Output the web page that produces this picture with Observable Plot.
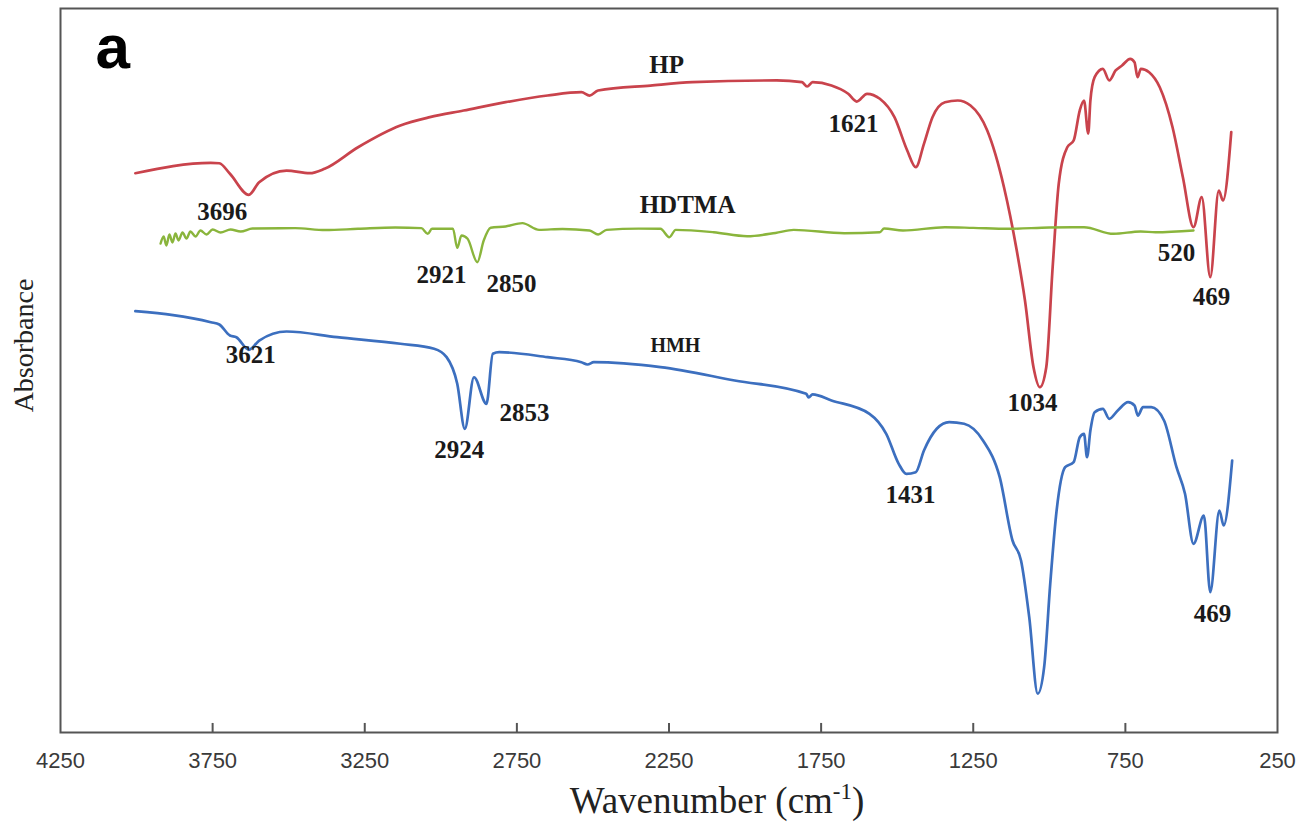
<!DOCTYPE html>
<html><head><meta charset="utf-8">
<script src="https://cdn.jsdelivr.net/npm/d3@7"></script>
<script src="https://cdn.jsdelivr.net/npm/@observablehq/plot@0.6"></script>
<style>body{margin:0;background:#fff} #chart{width:1310px;height:823px}</style>
</head><body><div id="chart"></div>
<script>
// FTIR spectra (arbitrary absorbance units, offset per sample)
const xTicks = [4250, 3750, 3250, 2750, 2250, 1750, 1250, 750, 250];
const innerTickLength = 1.25; // tick length in absorbance units (inward ticks)

const hpWave = [4004,3756,3728,3693,3631,3597,3507,3431,3382,3272,3133,3036,2925,2787,2649,2538,2511,2483,2311,2173,1896,1813,1796,1778,1716,1661,1633,1599,1557,1509,1467,1439,1412,1384,1343,1301,1259,1204,1149,1107,1080,1052,1031,1010,989,969,941,920,900,886,872,865,851,824,803,782,761,734,720,710,699,672,637,595,561,526,499,471,443,429,402];
const hpAbs = [77.25,78.69,78.63,77.17,74.27,76.01,77.62,77.25,77.86,80.84,83.84,84.99,85.91,87.06,87.98,88.44,87.98,88.67,89.36,89.82,90.06,89.82,89.23,89.82,89.36,88.22,87.15,88.22,87.53,84.99,80.39,78.08,81.31,84.99,87.06,87.29,86.6,83.15,75.32,66.57,59.67,50.46,47.69,50.46,64.27,75.79,80.84,81.77,85.91,87.29,82.73,87.29,90.51,91.67,90.06,91.44,92.13,93.05,92.58,90.51,91.67,91.2,89.13,83.6,76.7,69.79,73.94,62.89,74.86,73.48,82.92];

const hdtmaWave = [3921,3911,3902,3892,3882,3872,3862,3849,3836,3823,3806,3790,3770,3750,3724,3691,3658,3619,3479,3380,3272,3150,3064,3043,3029,2960,2946,2932,2912,2880,2859,2836,2787,2732,2677,2600,2511,2483,2455,2350,2278,2249,2228,2103,1993,1900,1840,1674,1557,1543,1481,1343,1250,1135,1000,886,789,700,651,526];
const hdtmaAbs = [67.54,68.51,67.27,68.78,67.68,68.92,67.96,69.06,68.23,69.20,68.51,69.34,68.78,69.48,69.06,69.48,69.20,69.61,69.66,69.40,69.57,69.75,69.66,68.88,69.57,69.57,66.94,68.65,68.19,64.96,67.96,69.71,69.89,70.35,69.43,69.55,69.34,68.78,69.43,69.60,69.57,68.41,69.43,69.10,68.55,69.00,69.43,68.96,69.10,69.61,69.34,69.79,69.70,69.57,69.75,69.79,68.88,69.20,69.10,69.34];

const hmhWave = [4004,3756,3728,3693,3672,3631,3597,3507,3341,3133,3022,2981,2946,2921,2891,2850,2829,2808,2649,2538,2518,2497,2278,2034,1799,1791,1778,1716,1591,1536,1495,1470,1439,1412,1370,1329,1280,1218,1163,1121,1093,1066,1038,1017,997,976,948,920,900,886,876,865,851,824,803,775,741,720,709,692,665,623,582,554,526,492,471,441,427,399];
const hmhAbs = [58.19,56.67,56.35,54.83,54.60,52.86,54.14,55.39,54.60,53.69,53.0,51.84,48.16,41.95,49.07,45.40,52.31,52.53,51.84,51.15,50.83,51.15,50.46,48.62,46.78,46.27,46.69,45.86,44.02,41.26,37.11,35.73,35.95,38.95,41.95,42.86,42.64,40.33,35.26,26.52,23.76,15.93,5.35,9.02,20.54,30.66,36.64,37.33,40.79,41.26,38.03,41.71,44.24,44.71,43.33,44.48,45.62,45.17,43.78,44.93,44.93,43.09,36.64,32.97,26.06,29.97,19.38,30.66,28.59,37.57];

const peakText = ["3696","2921","2850","3621","2853","2924","1621","520","469","1034","1431","469"];
const peakWave = [3718,2998,2768,3625,2725,2939,1644,582,467,1055,1456,464];
const peakAbs  = [70.72,62.15,60.91,51.10,43.09,37.85,83.01,65.06,58.98,44.34,31.63,15.33];

const seriesNames = ["HP","HDTMA","HMH"];
const seriesLabelWave = [2258,2189,2229];
const seriesLabelAbs = [91.16,71.82,52.49];
const seriesColors = ["#c9434c","#8ab53c","#3c6fbf"];

const panelLetter = [{t:"a", w:4135, v:91.85}];

const zip = (W, A) => W.map((w, i) => ({w, v: A[i]}));
const hp = zip(hpWave, hpAbs);
const hdtma = zip(hdtmaWave, hdtmaAbs);
const hmh = zip(hmhWave, hmhAbs);
const peaks = peakText.map((t, i) => ({t, w: peakWave[i], v: peakAbs[i]}));
const names = seriesNames.map((t, i) => ({t, w: seriesLabelWave[i], v: seriesLabelAbs[i]}));

const serif = "'Liberation Serif','Times New Roman',serif";
const chart = Plot.plot({
  width: 1310, height: 823,
  marginLeft: 60, marginRight: 33, marginTop: 8, marginBottom: 91,
  x: {domain: [4250, 250], axis: null},
  y: {domain: [0, 100], axis: null},
  style: {background: "#fff"},
  marks: [
    Plot.line(hp, {x: "w", y: "v", stroke: seriesColors[0], strokeWidth: 2.7, curve: "monotone-x"}),
    Plot.line(hmh, {x: "w", y: "v", stroke: seriesColors[2], strokeWidth: 2.7, curve: "monotone-x"}),
    Plot.line(hdtma, {x: "w", y: "v", stroke: seriesColors[1], strokeWidth: 2.4, curve: "monotone-x"}),
    Plot.ruleX(xTicks.slice(1, -1), {x: d => d, y1: 0, y2: innerTickLength, stroke: "#555", strokeWidth: 2}),
    Plot.frame({stroke: "#555", strokeWidth: 2}),
    Plot.axisX({ticks: xTicks, tickSize: 0, tickPadding: 20, tickFormat: d => String(d), fontSize: 22, fontFamily: "'Liberation Sans',Arial,sans-serif", fill: "#3a3a3a", label: null}),
    Plot.text(peaks, {x: "w", y: "v", text: "t", fontSize: 25, fontWeight: "bold", fontFamily: serif, fill: "#1a1a1a", lineAnchor: "bottom"}),
    Plot.text(names.slice(0,2), {x: "w", y: "v", text: "t", fontSize: 25, fontWeight: "bold", fontFamily: serif, fill: "#1a1a1a", lineAnchor: "bottom"}),
    Plot.text(names.slice(2), {x: "w", y: "v", text: "t", fontSize: 20, fontWeight: "bold", fontFamily: serif, fill: "#1a1a1a", lineAnchor: "bottom"}),
    Plot.text(panelLetter, {x: "w", y: "v", text: "t", fontSize: 62, fontWeight: "bold", fontFamily: "'Liberation Sans',Arial,sans-serif", fill: "#000", textAnchor: "start", lineAnchor: "bottom"}),
    Plot.text(["Absorbance"], {frameAnchor: "left", textAnchor: "middle", dx: -36, dy: -25, rotate: -90, fontSize: 28, fontFamily: serif, fill: "#222"}),
    Plot.text(["Wavenumber (cm-1)"], {frameAnchor: "bottom", textAnchor: "middle", dx: 48, dy: 80, lineAnchor: "bottom", fontSize: 37, fontFamily: serif, fill: "#222"})
  ]
});
document.getElementById("chart").appendChild(chart);

// superscript for the x-axis title
d3.select(chart).selectAll("text").filter(function(){ return this.textContent === "Wavenumber (cm-1)"; })
  .each(function(){
    const s = d3.select(this);
    s.text("Wavenumber (cm");
    s.append("tspan").attr("dy", -14).attr("font-size", "0.62em").text("-1");
    s.append("tspan").attr("dy", 14).text(")");
  });
</script>
</body></html>
